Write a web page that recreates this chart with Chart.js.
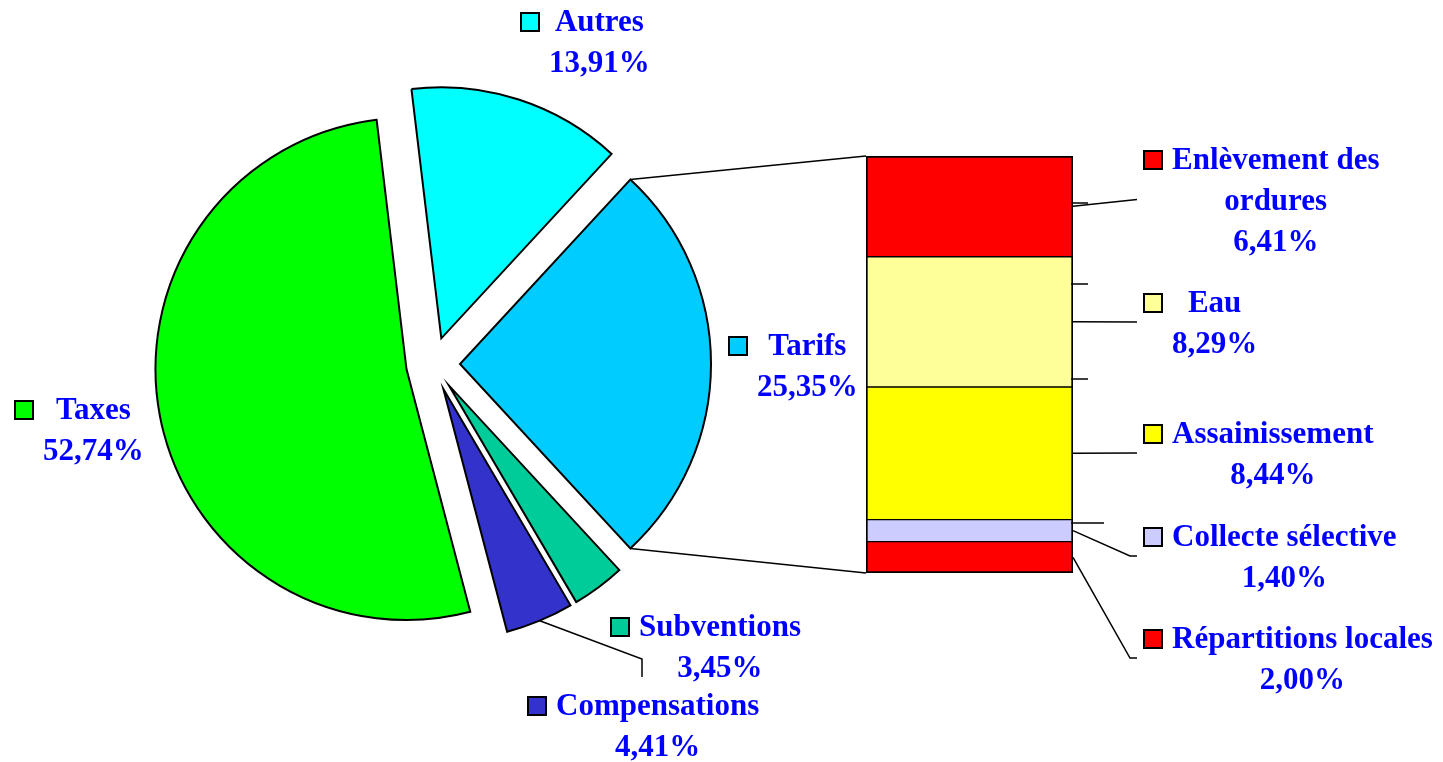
<!DOCTYPE html>
<html lang="fr">
<head>
<meta charset="utf-8">
<title>Répartition des recettes</title>
<script src="https://cdn.jsdelivr.net/npm/chart.js@4.4.1/dist/chart.umd.min.js"></script>
<style>
  html, body { margin: 0; padding: 0; background: #fff; }
  #wrap { position: relative; width: 1443px; height: 762px; }
  canvas { position: absolute; left: 0; top: 0; }
</style>
</head>
<body>
<div id="wrap">
  <canvas id="pieChart" width="1443" height="762"></canvas>
  <canvas id="barChart" width="1443" height="762"></canvas>
</div>
<script>
// Données
const pieLabels = ['Tarifs', 'Subventions', 'Compensations', 'Taxes', 'Autres'];
const piePercents = [25.35, 3.45, 4.41, 52.74, 13.91];
const pieColors = ['#00ccff', '#00cc99', '#3333cc', '#00ff00', '#00ffff'];

const barLabels = ['Enlèvement des\nordures', 'Eau', 'Assainissement', 'Collecte sélective', 'Répartitions locales'];
const barPercents = [6.41, 8.29, 8.44, 1.40, 2.00];
const barColors = ['#ff0000', '#ffff99', '#ffff00', '#ccccff', '#ff0000'];

// La part "Tarifs" est détaillée dans la barre : sa taille = somme de ses composantes
const tarifsTotal = barPercents.reduce((a, b) => a + b, 0);
const pieValues = piePercents.map((v, i) => i === 0 ? tarifsTotal : v);
const pieTotal = pieValues.reduce((a, b) => a + b, 0);
const tarifsAngle = tarifsTotal / pieTotal * 360;

// Mise en page
const FONT = 'bold 31px "Liberation Serif", "Times New Roman", serif';
const TEXT_COLOR = '#0000ff';
const LINE_H = 41;
const KEY = 18;
const EXPLODE = 27;

// [bord gauche de la pastille, ligne de base de la 1re ligne]
const pieLabelPos = [[729, 355], [611, 636], [528, 715], [15, 419], [521, 31]];
const barLabelPos = [[1144, 169], [1144, 312], [1144, 443], [1144, 546], [1144, 648]];
const barTicks = [[203, 1088], [284, 1088], [379, 1088], [523, 1104]];

function fmt(v) {
  return v.toFixed(2).replace('.', ',') + '%';
}

function drawLabel(ctx, name, value, color, x, y) {
  const lines = name.split('\n').concat(fmt(value));
  ctx.save();
  ctx.font = FONT;
  const w = Math.max(...lines.map(l => ctx.measureText(l).width));
  ctx.fillStyle = color;
  ctx.strokeStyle = '#000';
  ctx.lineWidth = 2;
  ctx.fillRect(x, y - KEY, KEY, KEY);
  ctx.strokeRect(x, y - KEY, KEY, KEY);
  ctx.fillStyle = TEXT_COLOR;
  ctx.textAlign = 'center';
  ctx.textBaseline = 'alphabetic';
  const cx = x + KEY + 10 + w / 2;
  lines.forEach((l, i) => ctx.fillText(l, cx, y + i * LINE_H));
  ctx.restore();
}

// Écarte chaque part du centre
const explodePlugin = {
  id: 'explode',
  afterDatasetsUpdate(chart) {
    chart.getDatasetMeta(0).data.forEach(arc => {
      const mid = (arc.startAngle + arc.endAngle) / 2;
      arc.x += EXPLODE * Math.cos(mid);
      arc.y += EXPLODE * Math.sin(mid);
    });
  }
};

const pieLabelsPlugin = {
  id: 'pieLabels',
  afterDraw(chart) {
    const ctx = chart.ctx;
    const arcs = chart.getDatasetMeta(0).data;

    // trait de rappel de Compensations
    const c = arcs[2];
    const mid = (c.startAngle + c.endAngle) / 2;
    ctx.save();
    ctx.strokeStyle = '#000';
    ctx.lineWidth = 1.5;
    ctx.beginPath();
    ctx.moveTo(c.x + c.outerRadius * Math.cos(mid), c.y + c.outerRadius * Math.sin(mid));
    ctx.lineTo(642, 659);
    ctx.lineTo(642, 677);
    ctx.stroke();
    ctx.restore();

    pieLabels.forEach((name, i) => {
      drawLabel(ctx, name, piePercents[i], pieColors[i], pieLabelPos[i][0], pieLabelPos[i][1]);
    });
  }
};

const pieChart = new Chart(document.getElementById('pieChart'), {
  type: 'pie',
  data: {
    labels: pieLabels,
    datasets: [{
      data: pieValues,
      backgroundColor: pieColors,
      borderColor: '#000',
      borderWidth: 2,
      borderJoinStyle: 'miter'
    }]
  },
  options: {
    responsive: false,
    animation: false,
    devicePixelRatio: 1,
    radius: 251,
    rotation: 90 - tarifsAngle / 2,
    layout: { padding: { left: 0, top: 0, right: 577, bottom: 34 } },
    plugins: { legend: { display: false }, tooltip: { enabled: false } }
  },
  plugins: [explodePlugin, pieLabelsPlugin]
});

// Lignes de liaison, traits de rappel et étiquettes de la barre
const barNotesPlugin = {
  id: 'barNotes',
  afterDraw(chart) {
    const ctx = chart.ctx;
    const n = barLabels.length;
    const segs = barLabels.map((_, i) => chart.getDatasetMeta(n - 1 - i).data[0]);
    const top = segs[0];
    const bottom = segs[n - 1];
    const left = top.x - top.width / 2;
    const right = top.x + top.width / 2;
    const t = pieChart.getDatasetMeta(0).data[0];

    ctx.save();
    ctx.strokeStyle = '#000';
    ctx.lineWidth = 1.5;
    ctx.beginPath();
    ctx.moveTo(t.x + t.outerRadius * Math.cos(t.startAngle), t.y + t.outerRadius * Math.sin(t.startAngle));
    ctx.lineTo(left, top.y);
    ctx.moveTo(t.x + t.outerRadius * Math.cos(t.endAngle), t.y + t.outerRadius * Math.sin(t.endAngle));
    ctx.lineTo(left, bottom.base);

    segs.forEach((s, i) => {
      const [lx, ly] = barLabelPos[i];
      const lines = barLabels[i].split('\n').length + 1;
      const ty = ly + 10 + (lines - 2) * LINE_H / 2;
      const sy = (s.y + s.base) / 2;
      ctx.moveTo(right, sy);
      if (Math.abs(ty - sy) > 15) ctx.lineTo(lx - 14, ty);
      ctx.lineTo(lx - 7, ty);
    });

    barTicks.forEach(([y, x]) => {
      ctx.moveTo(right - 2, y);
      ctx.lineTo(x, y);
    });
    ctx.stroke();
    ctx.restore();

    barLabels.forEach((name, i) => {
      drawLabel(ctx, name, barPercents[i], barColors[i], barLabelPos[i][0], barLabelPos[i][1]);
    });
  }
};

const last = barLabels.length - 1;
new Chart(document.getElementById('barChart'), {
  type: 'bar',
  data: {
    labels: ['Tarifs'],
    datasets: barLabels.map((name, i) => ({
      label: name,
      data: [barPercents[i]],
      backgroundColor: barColors[i],
      borderColor: '#000',
      borderWidth: { left: 2, right: 2, top: i === 0 ? 2 : 1, bottom: i === last ? 2 : 1 },
      borderSkipped: false,
      barPercentage: 1,
      categoryPercentage: 1
    })).reverse()
  },
  options: {
    responsive: false,
    animation: false,
    devicePixelRatio: 1,
    layout: { padding: { left: 866, right: 370, top: 156, bottom: 189 } },
    scales: {
      x: { stacked: true, display: false },
      y: { stacked: true, display: false, min: 0, max: tarifsTotal }
    },
    plugins: { legend: { display: false }, tooltip: { enabled: false } }
  },
  plugins: [barNotesPlugin]
});
</script>
</body>
</html>
